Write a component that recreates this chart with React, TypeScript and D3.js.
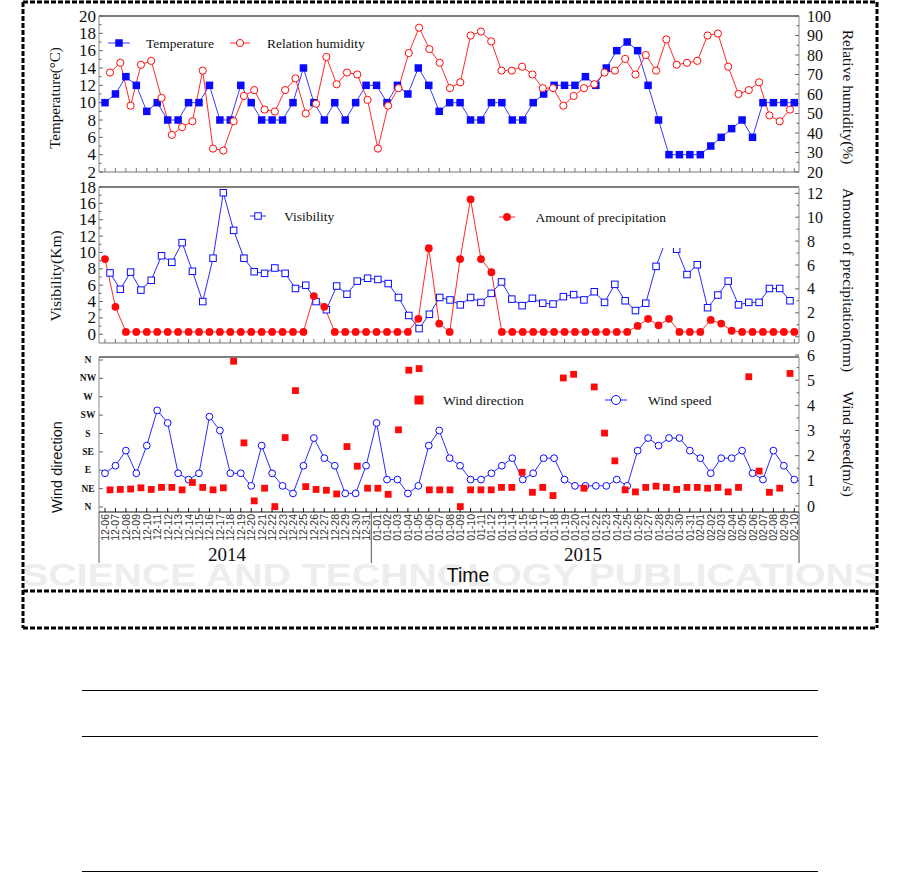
import React from "react";
import * as d3 from "d3";

const dates = [
  "12-06","12-07","12-08","12-09","12-10","12-11","12-12","12-13","12-14","12-15","12-16","12-17","12-18","12-19","12-20","12-21","12-22","12-23","12-24","12-25","12-26","12-27","12-28","12-29","12-30","12-31",
  "01-01","01-02","01-03","01-04","01-05","01-06","01-07","01-08","01-09","01-10","01-11","01-12","01-13","01-14","01-15","01-16","01-17","01-18","01-19","01-20","01-21","01-22","01-23","01-24","01-25","01-26","01-27","01-28","01-29","01-30","01-31",
  "02-01","02-02","02-03","02-04","02-05","02-06","02-07","02-08","02-09","02-10",
];

const temperature = [
  10,11,13,12,9,10,8,8,10,10,12,8,8,12,10,8,8,8,10,14,10,8,10,8,10,12,12,10,12,11,14,12,9,10,10,8,
  8,10,10,8,8,10,11,12,12,12,13,12,14,16,17,16,12,8,4,4,4,4,5,6,7,8,6,10,10,10,10,
];
const humidity = [
  71,76,54,75,77,58,39,43,46,72,32,31,46,59,62,52,51,62,68,50,55,79,65,71,70,57,32,54,63,81,94,83,76,63,66,90,
  92,87,72,72,74,70,63,63,54,59,63,65,71,72,78,70,80,72,88,75,76,77,90,91,74,60,62,66,49,46,52,
];
const visibility = [
  7.5,5.5,7.6,5.4,6.6,9.6,8.8,11.2,7.7,4.0,9.3,17.3,12.7,9.3,7.65,7.45,8.1,7.45,5.6,6.0,4.0,3.0,5.9,4.9,6.5,6.85,6.7,6.2,4.5,2.3,0.7,2.45,4.5,4.2,3.6,4.5,
  3.9,5.0,6.4,4.3,3.5,4.4,3.8,3.7,4.6,4.85,4.2,5.2,3.9,6.1,4.1,2.9,3.8,8.3,11.6,10.4,7.3,8.5,3.25,4.8,6.5,3.6,3.9,3.9,5.6,5.6,4.1,
];
const precipitation = [
  6.5,2.5,0.4,0.4,0.4,0.4,0.4,0.4,0.4,0.4,0.4,0.4,0.4,0.4,0.4,0.4,0.4,0.4,0.4,0.4,3.4,2.5,0.4,0.4,0.4,0.4,0.4,0.4,0.4,0.4,1.5,7.4,1.1,0.4,6.5,11.5,
  6.5,5.4,0.4,0.4,0.4,0.4,0.4,0.4,0.4,0.4,0.4,0.4,0.4,0.4,0.4,0.9,1.5,0.95,1.5,0.4,0.4,0.4,1.4,1.1,0.5,0.4,0.4,0.4,0.4,0.4,0.4,
];
const windDirection = [
  42,43,44,47,43,48,48,42,60,48,42,47,357,157,15,46,1,170,285,50,43,41,32,148,100,46,46,31,189,335,339,42,42,42,1,42,
  42,42,48,48,85,36,48,28,316,325,46,294,181,113,42,37,48,51,48,43,48,48,46,48,37,48,319,88,36,46,327,
];
const windSpeed = [
  1.3,1.6,2.2,1.3,2.4,3.8,3.3,1.3,1.05,1.3,3.55,3.0,1.3,1.3,0.8,2.4,1.3,0.8,0.5,1.6,2.7,1.9,1.6,0.5,0.5,1.6,3.3,1.05,1.05,0.5,0.8,2.4,3.0,1.9,1.6,1.05,
  1.05,1.3,1.6,1.9,1.05,1.3,1.9,1.9,1.05,0.8,0.8,0.8,0.8,1.05,0.8,2.2,2.7,2.4,2.7,2.7,2.2,1.9,1.3,1.9,1.9,2.2,1.3,1.05,2.2,1.6,1.05,
];

const tempTicks = [2,4,6,8,10,12,14,16,18,20];
const humTicks = [20,30,40,50,60,70,80,90,100];
const visTicks = [0,2,4,6,8,10,12,14,16,18];
const preTicks = [0,2,4,6,8,10,12];
const dirTicks = [0,45,90,135,180,225,270,315,360];
const dirLabels = ["N","NE","E","SE","S","SW","W","NW","N"];
const spdTicks = [0,1,2,3,4,5,6];
const years = ["2014","2015"];

const X0 = 99, X1 = 799;
const n = dates.length;
const xA = d3.scaleLinear().domain([0, n - 1]).range([105, 794.3]);
const xB = d3.scaleLinear().domain([0, n - 1]).range([110, 790]);

const P1 = { top: 16, bottom: 172 };
const P2 = { top: 187, bottom: 343 };
const P3 = { top: 357, bottom: 512 };

const yTemp = d3.scaleLinear().domain([2, 20]).range([172, 16]);
const yHum = d3.scaleLinear().domain([20, 100]).range([172, 16]);
const yVis = d3.scaleLinear().domain([0, 18]).range([334.3, 187]);
const yPre = d3.scaleLinear().domain([0, 12]).range([336.7, 193.3]);
const yDir = d3.scaleLinear().domain([0, 360]).range([507, 360]);
const ySpd = d3.scaleLinear().domain([0, 6]).range([506, 355]);

const SERIF = "'Liberation Serif', 'Times New Roman', serif";
const SANS = "'Liberation Sans', Arial, sans-serif";
const BLUE = "#0a0aff";
const RED = "#ff0a0a";

function mids(t: number[]) {
  const out: number[] = [];
  for (let i = 0; i < t.length - 1; i++) out.push((t[i] + t[i + 1]) / 2);
  return out;
}

function Frame({ top, bottom, bottomColor }: { top: number; bottom: number; bottomColor: string }) {
  return (
    <g>
      <line x1={X0} x2={X1} y1={top} y2={top} stroke="#000" strokeWidth={1.2} />
      <line x1={X0} x2={X0} y1={top} y2={bottom} stroke="#888" strokeWidth={1} />
      <line x1={X1} x2={X1} y1={top} y2={bottom} stroke="#888" strokeWidth={1} />
      <line x1={X0} x2={X1} y1={bottom} y2={bottom} stroke={bottomColor} strokeWidth={1.2} />
      {dates.map((d, i) => (
        <line key={d} x1={xA(i)} x2={xA(i)} y1={bottom} y2={bottom - 4} stroke={bottomColor} strokeWidth={1} />
      ))}
    </g>
  );
}

function LeftAxis({ scale, ticks, labels, minor, fontSize, bold, fontFamily, labelX, anchor }: any) {
  return (
    <g>
      {ticks.map((t: number, i: number) => (
        <g key={"t" + i}>
          <line x1={X0} x2={X0 + 4} y1={scale(t)} y2={scale(t)} stroke="#666" />
          <text x={labelX} y={scale(t)} textAnchor={anchor} dominantBaseline="central" fontFamily={fontFamily} fontSize={fontSize} fontWeight={bold ? "bold" : "normal"} fill="#111">
            {labels ? labels[i] : t}
          </text>
        </g>
      ))}
      {(minor ? mids(ticks) : []).map((t: number, i: number) => (
        <line key={"m" + i} x1={X0} x2={X0 + 2.5} y1={scale(t)} y2={scale(t)} stroke="#666" />
      ))}
    </g>
  );
}

function RightAxis({ scale, ticks, minorTicks }: any) {
  return (
    <g>
      {ticks.map((t: number, i: number) => (
        <g key={"t" + i}>
          <line x1={X1} x2={X1 - 4} y1={scale(t)} y2={scale(t)} stroke="#666" />
          <text x={807} y={scale(t)} textAnchor="start" dominantBaseline="central" fontFamily={SERIF} fontSize={16} fill="#111">
            {t}
          </text>
        </g>
      ))}
      {minorTicks.map((t: number, i: number) => (
        <line key={"m" + i} x1={X1} x2={X1 - 2.5} y1={scale(t)} y2={scale(t)} stroke="#666" />
      ))}
    </g>
  );
}

function Square({ x, y, s, fill, stroke }: any) {
  return <rect x={x - s / 2} y={y - s / 2} width={s} height={s} fill={fill} stroke={stroke || "none"} strokeWidth={1} />;
}

export default function App() {
  const lineA = (ys: any, vals: number[]) =>
    d3.line<number>().x((_, i) => xA(i)).y((d) => ys(d))(vals) || "";
  const lineB = (ys: any, vals: number[]) =>
    d3.line<number>().x((_, i) => xB(i)).y((d) => ys(d))(vals) || "";

  return (
    <svg width={901} height={873} style={{ position: "absolute", left: 0, top: 0, background: "#fff" }}>
      <rect x={0} y={0} width={901} height={873} fill="#fff" />

      {/* faint watermark */}
      <text x={22} y={586} fontFamily={SANS} fontWeight="bold" fontSize={32} fill="#ededed" textLength={858} lengthAdjust="spacingAndGlyphs">
        SCIENCE AND TECHNOLOGY PUBLICATIONS
      </text>

      {/* dashed outer frame */}
      <g stroke="#000" strokeWidth={3} strokeDasharray="5 2" fill="none">
        <line x1={23} x2={877} y1={2} y2={2} />
        <line x1={23} x2={23} y1={2} y2={628} />
        <line x1={877} x2={877} y1={2} y2={628} />
        <line x1={23} x2={877} y1={628} y2={628} />
        <line x1={23} x2={877} y1={591} y2={591} />
      </g>

      {/* panel frames */}
      <Frame top={P1.top} bottom={P1.bottom} bottomColor="#777" />
      <Frame top={P2.top} bottom={P2.bottom} bottomColor="#777" />
      <Frame top={P3.top} bottom={P3.bottom} bottomColor="#111" />

      {/* axes */}
      <LeftAxis scale={yTemp} ticks={tempTicks} minor fontSize={17} fontFamily={SERIF} labelX={96} anchor="end" />
      <LeftAxis scale={yVis} ticks={visTicks} minor fontSize={17} fontFamily={SERIF} labelX={96} anchor="end" />
      <LeftAxis scale={yDir} ticks={dirTicks} labels={dirLabels} fontSize={9.5} bold fontFamily={SERIF} labelX={88} anchor="middle" />
      <RightAxis scale={yHum} ticks={humTicks} minorTicks={mids(humTicks)} />
      <RightAxis scale={yPre} ticks={preTicks} minorTicks={mids(preTicks)} />
      <RightAxis scale={ySpd} ticks={spdTicks} minorTicks={mids(spdTicks)} />

      {/* axis titles */}
      <text transform={`translate(55,98) rotate(-90)`} textAnchor="middle" dominantBaseline="central" fontFamily={SERIF} fontSize={15} fill="#111">Temperature(°C)</text>
      <text transform={`translate(55,276) rotate(-90)`} textAnchor="middle" dominantBaseline="central" fontFamily={SERIF} fontSize={15.5} fill="#111">Visibility(Km)</text>
      <text transform={`translate(57,467) rotate(-90)`} textAnchor="middle" dominantBaseline="central" fontFamily={SANS} fontSize={14.5} fill="#111">Wind direction</text>
      <text transform={`translate(848,97) rotate(90)`} textAnchor="middle" dominantBaseline="central" fontFamily={SERIF} fontSize={15.5} fill="#111">Relative humidity(%)</text>
      <text transform={`translate(848,280) rotate(90)`} textAnchor="middle" dominantBaseline="central" fontFamily={SERIF} fontSize={15.5} fill="#111">Amount of precipitation(mm)</text>
      <text transform={`translate(848,444) rotate(90)`} textAnchor="middle" dominantBaseline="central" fontFamily={SERIF} fontSize={15.5} fill="#111">Wind speed(m/s)</text>

      {/* Panel 1 */}
      <path d={lineA(yTemp, temperature)} fill="none" stroke="#3a3aff" strokeWidth={1} />
      <path d={lineB(yHum, humidity)} fill="none" stroke="#ff2a2a" strokeWidth={1} />
      {temperature.map((v, i) => <Square key={"t" + i} x={xA(i)} y={yTemp(v)} s={7.5} fill={BLUE} />)}
      {humidity.map((v, i) => <circle key={"h" + i} cx={xB(i)} cy={yHum(v)} r={3.6} fill="#fff" stroke={RED} strokeWidth={1} />)}
      <g>
        <line x1={108} x2={130} y1={43} y2={43} stroke="#3a3aff" />
        <Square x={119} y={43} s={7.5} fill={BLUE} />
        <text x={146} y={43} dominantBaseline="central" fontFamily={SERIF} fontSize={13.5} fill="#111">Temperature</text>
        <line x1={230} x2={250} y1={43} y2={43} stroke="#ff2a2a" />
        <circle cx={240} cy={43} r={3.6} fill="#fff" stroke={RED} />
        <text x={267} y={43} dominantBaseline="central" fontFamily={SERIF} fontSize={13.5} fill="#111">Relation humidity</text>
      </g>

      {/* Panel 2 */}
      <path d={lineB(yVis, visibility)} fill="none" stroke="#2a2aff" strokeWidth={1} />
      <path d={lineA(yPre, precipitation)} fill="none" stroke="#ff2a2a" strokeWidth={1} />
      {visibility.map((v, i) => <Square key={"v" + i} x={xB(i)} y={yVis(v)} s={6.5} fill="#fff" stroke={BLUE} />)}
      {precipitation.map((v, i) => <circle key={"p" + i} cx={xA(i)} cy={yPre(v)} r={3.9} fill={RED} />)}
      <g>
        <line x1={250} x2={266} y1={216} y2={216} stroke="#2a2aff" />
        <Square x={258} y={216} s={6.5} fill="#fff" stroke={BLUE} />
        <text x={284} y={216} dominantBaseline="central" fontFamily={SERIF} fontSize={13.5} fill="#111">Visibility</text>
        <rect x={495} y={196} width={187} height={52} fill="#fff" />
        <line x1={499} x2={515} y1={217} y2={217} stroke="#ff2a2a" />
        <circle cx={507} cy={217} r={3.9} fill={RED} />
        <text x={535.5} y={217} dominantBaseline="central" fontFamily={SERIF} fontSize={13.5} fill="#111">Amount of precipitation</text>
      </g>

      {/* Panel 3 */}
      <path d={lineA(ySpd, windSpeed)} fill="none" stroke="#2a2aff" strokeWidth={1} />
      {windSpeed.map((v, i) => <circle key={"s" + i} cx={xA(i)} cy={ySpd(v)} r={3.4} fill="#fff" stroke={BLUE} strokeWidth={1} />)}
      {windDirection.map((v, i) => <Square key={"d" + i} x={xB(i)} y={yDir(v)} s={6.8} fill={RED} />)}
      <g>
        <Square x={419} y={400} s={9} fill={RED} />
        <text x={443} y={400} dominantBaseline="central" fontFamily={SERIF} fontSize={13.5} fill="#111">Wind direction</text>
        <line x1={605} x2={627} y1={400} y2={400} stroke="#2a2aff" />
        <circle cx={616} cy={400} r={4.5} fill="#fff" stroke={BLUE} />
        <text x={648} y={400} dominantBaseline="central" fontFamily={SERIF} fontSize={13.5} fill="#111">Wind speed</text>
      </g>

      {/* date labels */}
      {dates.map((d, i) => (
        <text key={"dl" + i} transform={`translate(${xA(i)},514) rotate(-90)`} textAnchor="end" dominantBaseline="central" fontFamily={SANS} fontSize={10.5} fill="#333">
          {d}
        </text>
      ))}
      {/* year separators */}
      <g stroke="#555" strokeWidth={1}>
        <line x1={X0} x2={X0} y1={512} y2={563} />
        <line x1={(xA(25) + xA(26)) / 2} x2={(xA(25) + xA(26)) / 2} y1={512} y2={563} />
        <line x1={X1} x2={X1} y1={512} y2={563} />
      </g>
      <text x={227} y={561} textAnchor="middle" fontFamily={SERIF} fontSize={19} fill="#111">{years[0]}</text>
      <text x={583} y={561} textAnchor="middle" fontFamily={SERIF} fontSize={19} fill="#111">{years[1]}</text>
      <text x={468} y={582} textAnchor="middle" fontFamily={SANS} fontSize={19.5} fill="#111">Time</text>

      {/* table rules below */}
      <g stroke="#000" strokeWidth={1}>
        <line x1={82} x2={818} y1={690.5} y2={690.5} />
        <line x1={82} x2={818} y1={736.5} y2={736.5} />
        <line x1={82} x2={818} y1={871.5} y2={871.5} />
      </g>
    </svg>
  );
}
